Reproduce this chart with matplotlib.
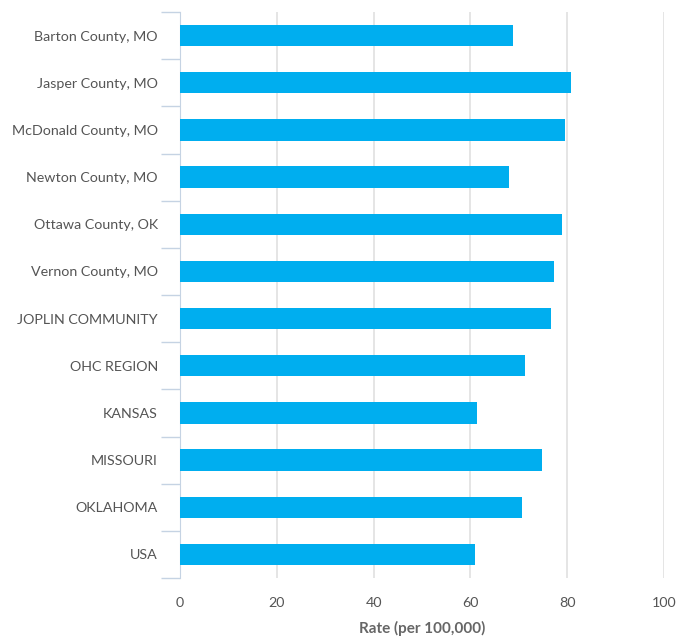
import numpy as np
import matplotlib.pyplot as plt
from matplotlib.ticker import FixedLocator

# Categorías y valores
categorias = ["Barton County, MO", "Jasper County, MO", "McDonald County, MO",
              "Newton County, MO", "Ottawa County, OK", "Vernon County, MO",
              "JOPLIN COMMUNITY", "OHC REGION", "KANSAS", "MISSOURI",
              "OKLAHOMA", "USA"]
valores = [68.8, 80.8, 79.6, 67.9, 79.0, 77.2, 76.6, 71.2, 61.3, 74.8, 70.6, 61.0]
xticks = [0, 20, 40, 60, 80, 100]

plt.rcParams['font.family'] = ['Lato', 'DejaVu Sans']

fig = plt.figure(figsize=(6.8, 6.39), dpi=100)
ax = fig.add_axes([180 / 680, 1 - 578 / 639, 484 / 680, 566 / 639])

y = np.arange(len(categorias))
ax.barh(y, valores, height=0.45, color='#00AEEF', zorder=3)

ax.set_xlim(0, 100)
ax.set_ylim(len(categorias) - 0.5, -0.5)

ax.set_yticks(y)
ax.set_yticklabels(categorias, fontsize=10.3, color='#555555')
ax.yaxis.set_minor_locator(FixedLocator(np.arange(-0.5, len(categorias), 1)))
ax.tick_params(axis='y', which='major', length=0, pad=16)
ax.tick_params(axis='y', which='minor', length=14, color='#c5d3e3', width=1)

ax.set_xticks(xticks)
ax.set_xticklabels([str(t) for t in xticks], fontsize=10.3, color='#555555')
ax.tick_params(axis='x', length=0, pad=14)
ax.grid(axis='x', color='#e0e0e0', linewidth=1.2, zorder=0)

for s in ['top', 'right', 'bottom']:
    ax.spines[s].set_visible(False)
ax.spines['left'].set_color('#c5d3e3')

ax.set_xlabel("Rate (per 100,000)", fontsize=11, fontweight='bold',
              color='#666666', labelpad=8)

fig.savefig("out.png", dpi=100)
